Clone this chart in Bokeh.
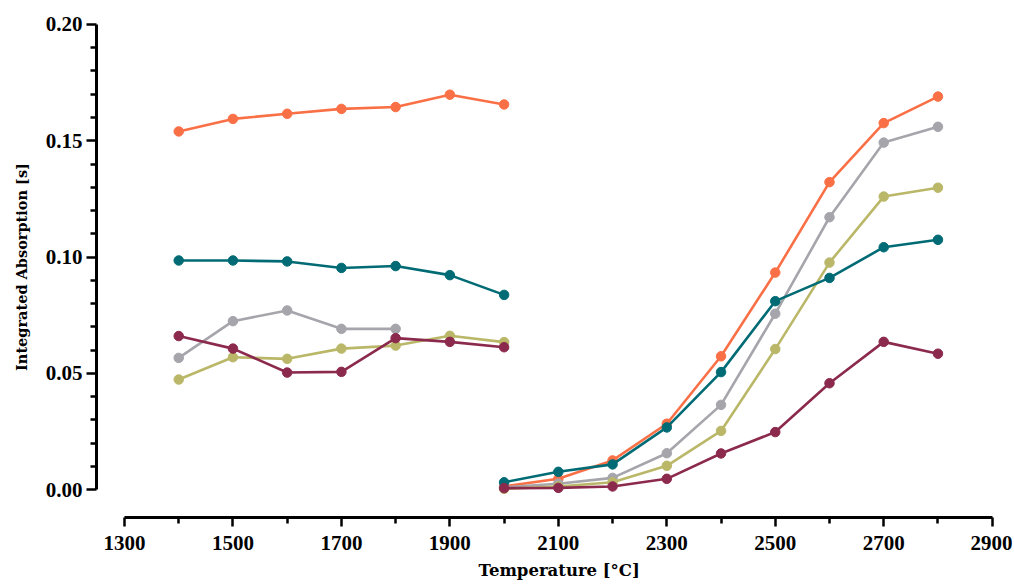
from bokeh.plotting import figure
from bokeh.models import FixedTicker, PrintfTickFormatter, Range1d, Title
from bokeh.embed import file_html
from bokeh.resources import INLINE

# ---- data ----
temps_low = [1400, 1500, 1600, 1700, 1800, 1900, 2000]
temps_high = [2000, 2100, 2200, 2300, 2400, 2500, 2600, 2700, 2800]

orange_low = [0.1540, 0.1594, 0.1616, 0.1637, 0.1645, 0.1698, 0.1656]
orange_high = [0.0013, 0.0046, 0.0125, 0.0283, 0.0573, 0.0933, 0.1322, 0.1576, 0.1690]

gray_low = [0.0566, 0.0724, 0.0770, 0.0691, 0.0691]
gray_high = [0.0010, 0.0025, 0.0050, 0.0156, 0.0364, 0.0756, 0.1171, 0.1492, 0.1560]

olive_low = [0.0473, 0.0569, 0.0562, 0.0606, 0.0619, 0.0661, 0.0634]
olive_high = [0.0003, 0.0013, 0.0031, 0.0102, 0.0252, 0.0604, 0.0976, 0.1260, 0.1298]

teal_low = [0.0985, 0.0985, 0.0981, 0.0953, 0.0961, 0.0922, 0.0837]
teal_high = [0.0031, 0.0076, 0.0108, 0.0267, 0.0505, 0.0810, 0.0910, 0.1042, 0.1074]

maroon_low = [0.0660, 0.0606, 0.0503, 0.0506, 0.0651, 0.0635, 0.0612]
maroon_high = [0.0006, 0.0007, 0.0013, 0.0046, 0.0155, 0.0247, 0.0457, 0.0635, 0.0584]

x_ticks = [1300, 1500, 1700, 1900, 2100, 2300, 2500, 2700, 2900]
x_minor = [1400, 1600, 1800, 2000, 2200, 2400, 2600, 2800]
y_ticks = [0.00, 0.05, 0.10, 0.15, 0.20]
y_minor = [0.01, 0.02, 0.03, 0.04, 0.06, 0.07, 0.08, 0.09, 0.11, 0.12, 0.13,
           0.14, 0.16, 0.17, 0.18, 0.19]

x_label = "Temperature [°C]"
y_label = "Integrated Absorption [s]"

series = [
    ("#FA7046", orange_low, orange_high),
    ("#A6A5AB", gray_low, gray_high),
    ("#BAB868", olive_low, olive_high),
    ("#006B74", teal_low, teal_high),
    ("#8C2A4D", maroon_low, maroon_high),
]

TICK_FONT = "Liberation Serif"
LABEL_FONT = "DejaVu Serif"

p = figure(width=1012, height=588, output_backend="svg", toolbar_location=None,
           x_range=Range1d(1248.4, 2906.1), y_range=Range1d(-0.01204, 0.20344),
           min_border_left=96, min_border_right=17, min_border_top=16,
           min_border_bottom=71)
p.outline_line_color = None
p.xgrid.grid_line_color = None
p.ygrid.grid_line_color = None
p.background_fill_color = "white"
p.border_fill_color = "white"

for color, low, high in series:
    xl = temps_low[:len(low)]
    p.line(xl, low, line_color=color, line_width=2.6)
    p.scatter(xl, low, size=9.5, fill_color=color, line_color=color)
    p.line(temps_high, high, line_color=color, line_width=2.6)
    p.scatter(temps_high, high, size=9.5, fill_color=color, line_color=color)

xa = p.xaxis[0]
xa.bounds = (1300, 2900)
xa.ticker = FixedTicker(ticks=x_ticks, minor_ticks=x_minor)
ya = p.yaxis[0]
ya.bounds = (0, 0.2)
ya.ticker = FixedTicker(ticks=y_ticks, minor_ticks=y_minor)
ya.formatter = PrintfTickFormatter(format="%.2f")

for ax in (xa, ya):
    ax.axis_line_width = 3
    ax.axis_line_color = "black"
    ax.major_tick_line_width = 2.5
    ax.minor_tick_line_width = 2.5
    ax.major_tick_in = 0
    ax.minor_tick_in = 0
    ax.major_label_text_font = TICK_FONT
    ax.major_label_text_font_style = "bold"
    ax.major_label_text_font_size = "21px"
    ax.major_label_text_color = "black"
    ax.axis_label_text_font = LABEL_FONT
    ax.axis_label_text_font_style = "bold"
    ax.axis_label_text_color = "black"

xa.major_tick_out = 9
xa.minor_tick_out = 6
xa.major_label_standoff = 9

ya.major_tick_out = 10
ya.minor_tick_out = 6
ya.major_label_standoff = 4
ya.axis_label = y_label
ya.axis_label_text_font_size = "14.5px"
ya.axis_label_standoff = 13

xt = Title(text=x_label, align="left", offset=382, vertical_align="bottom",
           text_font=LABEL_FONT, text_font_style="bold",
           text_font_size="16.5px", text_color="black", standoff=13)
p.add_layout(xt, "below")

open("out.html", "w").write(file_html(p, INLINE))
